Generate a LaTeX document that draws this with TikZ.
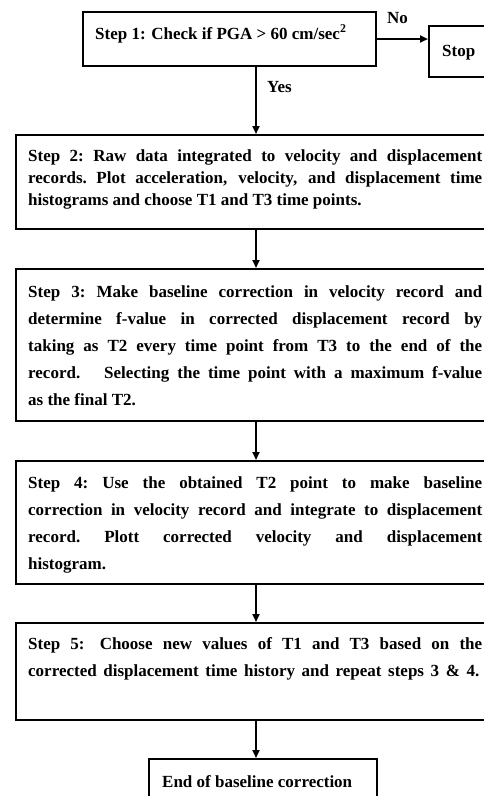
\documentclass[tikz,border=0pt]{standalone}
\usepackage{fontspec}
\setmainfont{Liberation Serif}
\usetikzlibrary{arrows.meta}
\begin{document}
\begin{tikzpicture}[x=1pt,y=-1pt,
  frame/.style={draw, line width=2pt, rectangle, inner sep=0pt, anchor=north west},
  body/.style={inner sep=0pt, anchor=north west, text width=454pt, align=justify,
    font=\fontsize{17}{27}\selectfont\bfseries},
  tight/.style={body, font=\fontsize{17}{22}\selectfont\bfseries},
  lbl/.style={inner sep=0pt, anchor=base west, font=\fontsize{17}{19}\selectfont\bfseries},
  flow/.style={line width=2pt, -{Triangle[length=8pt,width=7pt]}}]
\useasboundingbox (0,0) rectangle (484,796);
\clip (0,0) rectangle (484,796);

% boxes
\node[frame, minimum width=293pt, minimum height=54pt] (s1) at (82,11) {};
\node[frame, minimum width=66pt, minimum height=51pt] (stop) at (428,25) {};
\node[frame, minimum width=480pt, minimum height=94pt] (b2) at (15,134) {};
\node[frame, minimum width=480pt, minimum height=152pt] (b3) at (15,268) {};
\node[frame, minimum width=480pt, minimum height=123pt] (b4) at (15,460) {};
\node[frame, minimum width=480pt, minimum height=97pt] (b5) at (15,622) {};
\node[frame, minimum width=228pt, minimum height=60pt] (e) at (148,758) {};

% labels
\node[lbl] (t1) at (95,39) {Step 1: Check if PGA > 60 cm/sec\textsuperscript{2}};
\node[lbl] (tstop) at (442,56) {Stop};
\node[lbl] (tno) at (387,23) {No};
\node[lbl] (tyes) at (267,92) {Yes};
\node[lbl] (te) at (162,787) {End of baseline correction};

% step texts
\node[tight] (t2) at (28,149.5) {Step 2:\ Raw data integrated to velocity and displacement\linebreak records.\ Plot acceleration, velocity, and displacement time\linebreak histograms and choose T1 and T3 time points.};
\node[body] (t3) at (28,285.5) {Step 3:\ Make baseline correction in velocity record and\linebreak determine f-value in corrected displacement record by\linebreak taking as T2 every time point from T3 to the end of the\linebreak record.\ \ \ Selecting the time point with a maximum f-value\linebreak as the final T2.};
\node[body] (t4) at (28,476.5) {Step 4:\ Use the obtained T2 point to make baseline\linebreak correction in velocity record and integrate to displacement\linebreak record.\ Plott corrected velocity and displacement\linebreak histogram.};
\node[body] (t5) at (28,637.5) {\spaceskip=6.6pt plus 4pt minus 1pt Step 5: Choose new values of T1 and T3 based on the\linebreak corrected displacement time history and repeat steps 3 \& 4.};

% connectors
\draw[flow] (s1.east) -- (s1.east -| stop.west);
\draw[flow] (s1.south -| b2.north) -- (b2.north);
\draw[flow] (b2.south) -- (b3.north);
\draw[flow] (b3.south) -- (b4.north);
\draw[flow] (b4.south) -- (b5.north);
\draw[flow] (b5.south) -- (b5.south |- e.north);
\end{tikzpicture}
\end{document}
